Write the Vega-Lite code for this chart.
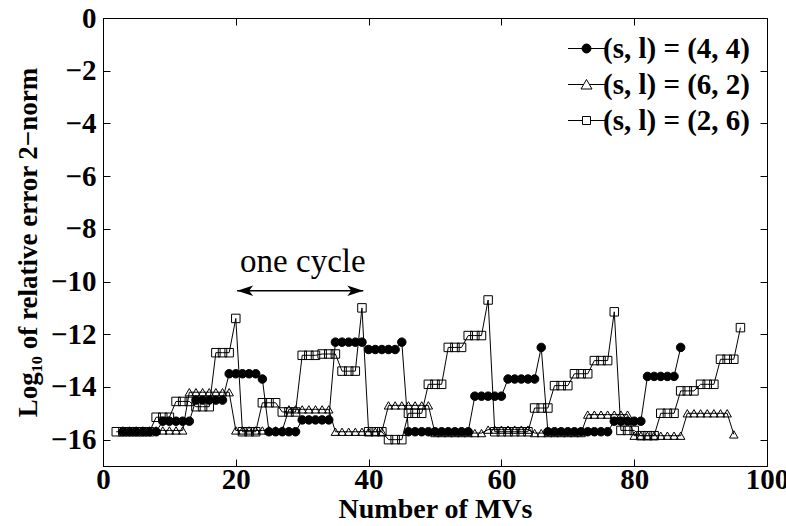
{
  "$schema": "https://vega.github.io/schema/vega-lite/v6.json",
  "width": 664,
  "height": 448,
  "autosize": {"type": "none"},
  "padding": {"left": 103, "top": 18, "right": 19, "bottom": 60},
  "background": "white",
  "config": {
    "view": {"stroke": "black", "strokeWidth": 1},
    "font": "Liberation Serif",
    "axis": {
      "labelFont": "Liberation Serif", "labelFontSize": 29, "labelFontWeight": "bold", "labelColor": "black",
      "titleFont": "Liberation Serif", "titleFontSize": 28, "titleFontWeight": "bold", "titleColor": "black",
      "domainColor": "black", "tickColor": "black", "grid": false, "labelFlush": false, "labelOverlap": false
    }
  },
  "datasets": {
    "series": [
      {"s":"(s, l) = (4, 4)","x":3,"y":-15.7},{"s":"(s, l) = (4, 4)","x":4,"y":-15.7},{"s":"(s, l) = (4, 4)","x":5,"y":-15.7},{"s":"(s, l) = (4, 4)","x":6,"y":-15.7},{"s":"(s, l) = (4, 4)","x":7,"y":-15.7},{"s":"(s, l) = (4, 4)","x":8,"y":-15.7},
      {"s":"(s, l) = (4, 4)","x":9,"y":-15.3},{"s":"(s, l) = (4, 4)","x":10,"y":-15.3},{"s":"(s, l) = (4, 4)","x":11,"y":-15.3},{"s":"(s, l) = (4, 4)","x":12,"y":-15.3},{"s":"(s, l) = (4, 4)","x":13,"y":-15.3},
      {"s":"(s, l) = (4, 4)","x":14,"y":-14.5},{"s":"(s, l) = (4, 4)","x":15,"y":-14.5},{"s":"(s, l) = (4, 4)","x":16,"y":-14.5},{"s":"(s, l) = (4, 4)","x":17,"y":-14.5},{"s":"(s, l) = (4, 4)","x":18,"y":-14.5},
      {"s":"(s, l) = (4, 4)","x":19,"y":-13.5},{"s":"(s, l) = (4, 4)","x":20,"y":-13.5},{"s":"(s, l) = (4, 4)","x":21,"y":-13.5},{"s":"(s, l) = (4, 4)","x":22,"y":-13.5},{"s":"(s, l) = (4, 4)","x":23,"y":-13.5},
      {"s":"(s, l) = (4, 4)","x":24,"y":-13.7},
      {"s":"(s, l) = (4, 4)","x":25,"y":-15.7},{"s":"(s, l) = (4, 4)","x":26,"y":-15.7},{"s":"(s, l) = (4, 4)","x":27,"y":-15.7},{"s":"(s, l) = (4, 4)","x":28,"y":-15.7},{"s":"(s, l) = (4, 4)","x":29,"y":-15.7},
      {"s":"(s, l) = (4, 4)","x":30,"y":-15.25},{"s":"(s, l) = (4, 4)","x":31,"y":-15.25},{"s":"(s, l) = (4, 4)","x":32,"y":-15.25},{"s":"(s, l) = (4, 4)","x":33,"y":-15.25},{"s":"(s, l) = (4, 4)","x":34,"y":-15.25},
      {"s":"(s, l) = (4, 4)","x":35,"y":-12.3},{"s":"(s, l) = (4, 4)","x":36,"y":-12.3},{"s":"(s, l) = (4, 4)","x":37,"y":-12.3},{"s":"(s, l) = (4, 4)","x":38,"y":-12.3},{"s":"(s, l) = (4, 4)","x":39,"y":-12.3},
      {"s":"(s, l) = (4, 4)","x":40,"y":-12.58},{"s":"(s, l) = (4, 4)","x":41,"y":-12.58},{"s":"(s, l) = (4, 4)","x":42,"y":-12.58},{"s":"(s, l) = (4, 4)","x":43,"y":-12.58},{"s":"(s, l) = (4, 4)","x":44,"y":-12.58},
      {"s":"(s, l) = (4, 4)","x":45,"y":-12.3},
      {"s":"(s, l) = (4, 4)","x":46,"y":-15.7},{"s":"(s, l) = (4, 4)","x":47,"y":-15.7},{"s":"(s, l) = (4, 4)","x":48,"y":-15.7},{"s":"(s, l) = (4, 4)","x":49,"y":-15.7},{"s":"(s, l) = (4, 4)","x":50,"y":-15.7},
      {"s":"(s, l) = (4, 4)","x":51,"y":-15.7},{"s":"(s, l) = (4, 4)","x":52,"y":-15.7},{"s":"(s, l) = (4, 4)","x":53,"y":-15.7},{"s":"(s, l) = (4, 4)","x":54,"y":-15.7},{"s":"(s, l) = (4, 4)","x":55,"y":-15.7},
      {"s":"(s, l) = (4, 4)","x":56,"y":-14.35},{"s":"(s, l) = (4, 4)","x":57,"y":-14.35},{"s":"(s, l) = (4, 4)","x":58,"y":-14.35},{"s":"(s, l) = (4, 4)","x":59,"y":-14.35},{"s":"(s, l) = (4, 4)","x":60,"y":-14.35},
      {"s":"(s, l) = (4, 4)","x":61,"y":-13.7},{"s":"(s, l) = (4, 4)","x":62,"y":-13.7},{"s":"(s, l) = (4, 4)","x":63,"y":-13.7},{"s":"(s, l) = (4, 4)","x":64,"y":-13.7},{"s":"(s, l) = (4, 4)","x":65,"y":-13.7},
      {"s":"(s, l) = (4, 4)","x":66,"y":-12.5},
      {"s":"(s, l) = (4, 4)","x":67,"y":-15.7},{"s":"(s, l) = (4, 4)","x":68,"y":-15.7},{"s":"(s, l) = (4, 4)","x":69,"y":-15.7},{"s":"(s, l) = (4, 4)","x":70,"y":-15.7},{"s":"(s, l) = (4, 4)","x":71,"y":-15.7},
      {"s":"(s, l) = (4, 4)","x":72,"y":-15.7},{"s":"(s, l) = (4, 4)","x":73,"y":-15.7},{"s":"(s, l) = (4, 4)","x":74,"y":-15.7},{"s":"(s, l) = (4, 4)","x":75,"y":-15.7},{"s":"(s, l) = (4, 4)","x":76,"y":-15.7},
      {"s":"(s, l) = (4, 4)","x":77,"y":-15.3},{"s":"(s, l) = (4, 4)","x":78,"y":-15.3},{"s":"(s, l) = (4, 4)","x":79,"y":-15.3},{"s":"(s, l) = (4, 4)","x":80,"y":-15.3},{"s":"(s, l) = (4, 4)","x":81,"y":-15.3},
      {"s":"(s, l) = (4, 4)","x":82,"y":-13.6},{"s":"(s, l) = (4, 4)","x":83,"y":-13.6},{"s":"(s, l) = (4, 4)","x":84,"y":-13.6},{"s":"(s, l) = (4, 4)","x":85,"y":-13.6},{"s":"(s, l) = (4, 4)","x":86,"y":-13.6},
      {"s":"(s, l) = (4, 4)","x":87,"y":-12.5},

      {"s":"(s, l) = (6, 2)","x":3,"y":-15.65},{"s":"(s, l) = (6, 2)","x":4,"y":-15.65},{"s":"(s, l) = (6, 2)","x":5,"y":-15.65},{"s":"(s, l) = (6, 2)","x":6,"y":-15.65},{"s":"(s, l) = (6, 2)","x":7,"y":-15.65},
      {"s":"(s, l) = (6, 2)","x":8,"y":-15.65},{"s":"(s, l) = (6, 2)","x":9,"y":-15.65},{"s":"(s, l) = (6, 2)","x":10,"y":-15.65},{"s":"(s, l) = (6, 2)","x":11,"y":-15.65},{"s":"(s, l) = (6, 2)","x":12,"y":-15.65},
      {"s":"(s, l) = (6, 2)","x":13,"y":-14.2},{"s":"(s, l) = (6, 2)","x":14,"y":-14.2},{"s":"(s, l) = (6, 2)","x":15,"y":-14.2},{"s":"(s, l) = (6, 2)","x":16,"y":-14.2},{"s":"(s, l) = (6, 2)","x":17,"y":-14.2},{"s":"(s, l) = (6, 2)","x":18,"y":-14.2},{"s":"(s, l) = (6, 2)","x":19,"y":-14.2},
      {"s":"(s, l) = (6, 2)","x":20,"y":-15.65},{"s":"(s, l) = (6, 2)","x":21,"y":-15.65},{"s":"(s, l) = (6, 2)","x":22,"y":-15.65},{"s":"(s, l) = (6, 2)","x":23,"y":-15.65},{"s":"(s, l) = (6, 2)","x":24,"y":-15.65},{"s":"(s, l) = (6, 2)","x":25,"y":-15.65},{"s":"(s, l) = (6, 2)","x":26,"y":-15.65},{"s":"(s, l) = (6, 2)","x":27,"y":-15.65},
      {"s":"(s, l) = (6, 2)","x":28,"y":-14.85},{"s":"(s, l) = (6, 2)","x":29,"y":-14.85},{"s":"(s, l) = (6, 2)","x":30,"y":-14.85},{"s":"(s, l) = (6, 2)","x":31,"y":-14.85},{"s":"(s, l) = (6, 2)","x":32,"y":-14.85},{"s":"(s, l) = (6, 2)","x":33,"y":-14.85},{"s":"(s, l) = (6, 2)","x":34,"y":-14.85},
      {"s":"(s, l) = (6, 2)","x":35,"y":-15.7},{"s":"(s, l) = (6, 2)","x":36,"y":-15.7},{"s":"(s, l) = (6, 2)","x":37,"y":-15.7},{"s":"(s, l) = (6, 2)","x":38,"y":-15.7},{"s":"(s, l) = (6, 2)","x":39,"y":-15.7},{"s":"(s, l) = (6, 2)","x":40,"y":-15.7},{"s":"(s, l) = (6, 2)","x":41,"y":-15.7},{"s":"(s, l) = (6, 2)","x":42,"y":-15.7},
      {"s":"(s, l) = (6, 2)","x":43,"y":-14.7},{"s":"(s, l) = (6, 2)","x":44,"y":-14.7},{"s":"(s, l) = (6, 2)","x":45,"y":-14.7},{"s":"(s, l) = (6, 2)","x":46,"y":-14.7},{"s":"(s, l) = (6, 2)","x":47,"y":-14.7},{"s":"(s, l) = (6, 2)","x":48,"y":-14.7},{"s":"(s, l) = (6, 2)","x":49,"y":-14.7},
      {"s":"(s, l) = (6, 2)","x":50,"y":-15.75},{"s":"(s, l) = (6, 2)","x":51,"y":-15.75},{"s":"(s, l) = (6, 2)","x":52,"y":-15.75},{"s":"(s, l) = (6, 2)","x":53,"y":-15.75},{"s":"(s, l) = (6, 2)","x":54,"y":-15.75},{"s":"(s, l) = (6, 2)","x":55,"y":-15.75},{"s":"(s, l) = (6, 2)","x":56,"y":-15.75},{"s":"(s, l) = (6, 2)","x":57,"y":-15.75},
      {"s":"(s, l) = (6, 2)","x":58,"y":-15.62},{"s":"(s, l) = (6, 2)","x":59,"y":-15.62},{"s":"(s, l) = (6, 2)","x":60,"y":-15.62},{"s":"(s, l) = (6, 2)","x":61,"y":-15.62},{"s":"(s, l) = (6, 2)","x":62,"y":-15.62},{"s":"(s, l) = (6, 2)","x":63,"y":-15.62},{"s":"(s, l) = (6, 2)","x":64,"y":-15.62},
      {"s":"(s, l) = (6, 2)","x":65,"y":-15.75},{"s":"(s, l) = (6, 2)","x":66,"y":-15.75},{"s":"(s, l) = (6, 2)","x":67,"y":-15.75},{"s":"(s, l) = (6, 2)","x":68,"y":-15.75},{"s":"(s, l) = (6, 2)","x":69,"y":-15.75},{"s":"(s, l) = (6, 2)","x":70,"y":-15.75},{"s":"(s, l) = (6, 2)","x":71,"y":-15.75},{"s":"(s, l) = (6, 2)","x":72,"y":-15.75},
      {"s":"(s, l) = (6, 2)","x":73,"y":-15.05},{"s":"(s, l) = (6, 2)","x":74,"y":-15.05},{"s":"(s, l) = (6, 2)","x":75,"y":-15.05},{"s":"(s, l) = (6, 2)","x":76,"y":-15.05},{"s":"(s, l) = (6, 2)","x":77,"y":-15.05},{"s":"(s, l) = (6, 2)","x":78,"y":-15.05},{"s":"(s, l) = (6, 2)","x":79,"y":-15.05},
      {"s":"(s, l) = (6, 2)","x":80,"y":-15.85},{"s":"(s, l) = (6, 2)","x":81,"y":-15.85},{"s":"(s, l) = (6, 2)","x":82,"y":-15.85},{"s":"(s, l) = (6, 2)","x":83,"y":-15.85},{"s":"(s, l) = (6, 2)","x":84,"y":-15.85},{"s":"(s, l) = (6, 2)","x":85,"y":-15.85},{"s":"(s, l) = (6, 2)","x":86,"y":-15.85},{"s":"(s, l) = (6, 2)","x":87,"y":-15.85},
      {"s":"(s, l) = (6, 2)","x":88,"y":-15.0},{"s":"(s, l) = (6, 2)","x":89,"y":-15.0},{"s":"(s, l) = (6, 2)","x":90,"y":-15.0},{"s":"(s, l) = (6, 2)","x":91,"y":-15.0},{"s":"(s, l) = (6, 2)","x":92,"y":-15.0},{"s":"(s, l) = (6, 2)","x":93,"y":-15.0},{"s":"(s, l) = (6, 2)","x":94,"y":-15.0},
      {"s":"(s, l) = (6, 2)","x":95,"y":-15.8},

      {"s":"(s, l) = (2, 6)","x":2,"y":-15.7},{"s":"(s, l) = (2, 6)","x":3,"y":-15.7},{"s":"(s, l) = (2, 6)","x":4,"y":-15.7},{"s":"(s, l) = (2, 6)","x":5,"y":-15.7},{"s":"(s, l) = (2, 6)","x":6,"y":-15.7},{"s":"(s, l) = (2, 6)","x":7,"y":-15.7},
      {"s":"(s, l) = (2, 6)","x":8,"y":-15.15},{"s":"(s, l) = (2, 6)","x":9,"y":-15.15},{"s":"(s, l) = (2, 6)","x":10,"y":-15.15},
      {"s":"(s, l) = (2, 6)","x":11,"y":-14.55},{"s":"(s, l) = (2, 6)","x":12,"y":-14.55},{"s":"(s, l) = (2, 6)","x":13,"y":-14.55},
      {"s":"(s, l) = (2, 6)","x":14,"y":-14.75},{"s":"(s, l) = (2, 6)","x":15,"y":-14.75},{"s":"(s, l) = (2, 6)","x":16,"y":-14.75},
      {"s":"(s, l) = (2, 6)","x":17,"y":-12.7},{"s":"(s, l) = (2, 6)","x":18,"y":-12.7},{"s":"(s, l) = (2, 6)","x":19,"y":-12.7},
      {"s":"(s, l) = (2, 6)","x":20,"y":-11.4},
      {"s":"(s, l) = (2, 6)","x":21,"y":-15.7},{"s":"(s, l) = (2, 6)","x":22,"y":-15.7},{"s":"(s, l) = (2, 6)","x":23,"y":-15.7},
      {"s":"(s, l) = (2, 6)","x":24,"y":-14.6},{"s":"(s, l) = (2, 6)","x":25,"y":-14.6},{"s":"(s, l) = (2, 6)","x":26,"y":-14.6},
      {"s":"(s, l) = (2, 6)","x":27,"y":-14.95},{"s":"(s, l) = (2, 6)","x":28,"y":-14.95},{"s":"(s, l) = (2, 6)","x":29,"y":-14.95},
      {"s":"(s, l) = (2, 6)","x":30,"y":-12.8},{"s":"(s, l) = (2, 6)","x":31,"y":-12.8},{"s":"(s, l) = (2, 6)","x":32,"y":-12.8},
      {"s":"(s, l) = (2, 6)","x":33,"y":-12.75},{"s":"(s, l) = (2, 6)","x":34,"y":-12.75},{"s":"(s, l) = (2, 6)","x":35,"y":-12.75},
      {"s":"(s, l) = (2, 6)","x":36,"y":-13.4},{"s":"(s, l) = (2, 6)","x":37,"y":-13.4},{"s":"(s, l) = (2, 6)","x":38,"y":-13.4},
      {"s":"(s, l) = (2, 6)","x":39,"y":-11.0},
      {"s":"(s, l) = (2, 6)","x":40,"y":-15.7},{"s":"(s, l) = (2, 6)","x":41,"y":-15.7},{"s":"(s, l) = (2, 6)","x":42,"y":-15.7},
      {"s":"(s, l) = (2, 6)","x":43,"y":-16.0},{"s":"(s, l) = (2, 6)","x":44,"y":-16.0},{"s":"(s, l) = (2, 6)","x":45,"y":-16.0},
      {"s":"(s, l) = (2, 6)","x":46,"y":-15.0},{"s":"(s, l) = (2, 6)","x":47,"y":-15.0},{"s":"(s, l) = (2, 6)","x":48,"y":-15.0},
      {"s":"(s, l) = (2, 6)","x":49,"y":-13.9},{"s":"(s, l) = (2, 6)","x":50,"y":-13.9},{"s":"(s, l) = (2, 6)","x":51,"y":-13.9},
      {"s":"(s, l) = (2, 6)","x":52,"y":-12.5},{"s":"(s, l) = (2, 6)","x":53,"y":-12.5},{"s":"(s, l) = (2, 6)","x":54,"y":-12.5},
      {"s":"(s, l) = (2, 6)","x":55,"y":-12.05},{"s":"(s, l) = (2, 6)","x":56,"y":-12.05},{"s":"(s, l) = (2, 6)","x":57,"y":-12.05},
      {"s":"(s, l) = (2, 6)","x":58,"y":-10.7},
      {"s":"(s, l) = (2, 6)","x":59,"y":-15.7},{"s":"(s, l) = (2, 6)","x":60,"y":-15.7},{"s":"(s, l) = (2, 6)","x":61,"y":-15.7},{"s":"(s, l) = (2, 6)","x":62,"y":-15.7},{"s":"(s, l) = (2, 6)","x":63,"y":-15.7},{"s":"(s, l) = (2, 6)","x":64,"y":-15.7},
      {"s":"(s, l) = (2, 6)","x":65,"y":-14.8},{"s":"(s, l) = (2, 6)","x":66,"y":-14.8},{"s":"(s, l) = (2, 6)","x":67,"y":-14.8},
      {"s":"(s, l) = (2, 6)","x":68,"y":-13.95},{"s":"(s, l) = (2, 6)","x":69,"y":-13.95},{"s":"(s, l) = (2, 6)","x":70,"y":-13.95},
      {"s":"(s, l) = (2, 6)","x":71,"y":-13.5},{"s":"(s, l) = (2, 6)","x":72,"y":-13.5},{"s":"(s, l) = (2, 6)","x":73,"y":-13.5},
      {"s":"(s, l) = (2, 6)","x":74,"y":-13.0},{"s":"(s, l) = (2, 6)","x":75,"y":-13.0},{"s":"(s, l) = (2, 6)","x":76,"y":-13.0},
      {"s":"(s, l) = (2, 6)","x":77,"y":-11.15},
      {"s":"(s, l) = (2, 6)","x":78,"y":-15.65},{"s":"(s, l) = (2, 6)","x":79,"y":-15.65},{"s":"(s, l) = (2, 6)","x":80,"y":-15.65},
      {"s":"(s, l) = (2, 6)","x":81,"y":-15.85},{"s":"(s, l) = (2, 6)","x":82,"y":-15.85},{"s":"(s, l) = (2, 6)","x":83,"y":-15.85},
      {"s":"(s, l) = (2, 6)","x":84,"y":-15.0},{"s":"(s, l) = (2, 6)","x":85,"y":-15.0},{"s":"(s, l) = (2, 6)","x":86,"y":-15.0},
      {"s":"(s, l) = (2, 6)","x":87,"y":-14.15},{"s":"(s, l) = (2, 6)","x":88,"y":-14.15},{"s":"(s, l) = (2, 6)","x":89,"y":-14.15},
      {"s":"(s, l) = (2, 6)","x":90,"y":-13.9},{"s":"(s, l) = (2, 6)","x":91,"y":-13.9},{"s":"(s, l) = (2, 6)","x":92,"y":-13.9},
      {"s":"(s, l) = (2, 6)","x":93,"y":-12.95},{"s":"(s, l) = (2, 6)","x":94,"y":-12.95},{"s":"(s, l) = (2, 6)","x":95,"y":-12.95},
      {"s":"(s, l) = (2, 6)","x":96,"y":-11.75}
    ],
    "arrow": [{"x": 20.2, "x2": 39.2, "y": -10.35}],
    "heads": [{"x": 20.2, "y": -10.35, "dir": "left"}, {"x": 39.2, "y": -10.35, "dir": "right"}],
    "note": [{"x": 30.1, "y": -9.25, "label": "one cycle"}]
  },
  "layer": [
    {
      "data": {"name": "series"},
      "mark": {"type": "line", "color": "black", "strokeWidth": 1},
      "encoding": {
        "x": {"field": "x", "type": "quantitative", "scale": {"domain": [0, 100], "nice": false},
          "axis": {"orient": "bottom", "values": [0, 20, 40, 60, 80, 100], "title": "Number of MVs", "tickSize": -7, "labelPadding": 6, "titlePadding": 1}},
        "y": {"field": "y", "type": "quantitative", "scale": {"domain": [-17, 0], "nice": false, "zero": false},
          "axis": {"orient": "left", "values": [0, -2, -4, -6, -8, -10, -12, -14, -16], "title": "Log₁₀ of relative error 2−norm", "titleFontSize": 27, "tickSize": -7, "labelPadding": 14, "titlePadding": 8}},
        "detail": {"field": "s", "type": "nominal"}
      }
    },
    {
      "data": {"name": "series"},
      "mark": {"type": "point", "stroke": "black", "strokeWidth": 1, "size": 72, "opacity": 1},
      "encoding": {
        "x": {"field": "x", "type": "quantitative",
          "axis": {"orient": "top", "values": [0, 20, 40, 60, 80, 100], "labels": false, "title": null, "domain": false, "tickSize": -7}},
        "y": {"field": "y", "type": "quantitative",
          "axis": {"orient": "right", "values": [0, -2, -4, -6, -8, -10, -12, -14, -16], "labels": false, "title": null, "domain": false, "tickSize": -7}},
        "shape": {"field": "s", "type": "nominal",
          "scale": {"domain": ["(s, l) = (4, 4)", "(s, l) = (6, 2)", "(s, l) = (2, 6)"], "range": ["circle", "triangle-up", "square"]},
          "legend": null},
        "fill": {"field": "s", "type": "nominal",
          "scale": {"domain": ["(s, l) = (4, 4)", "(s, l) = (6, 2)", "(s, l) = (2, 6)"], "range": ["black", "transparent", "transparent"]},
          "legend": null}
      }
    },
    {
      "data": {"name": "series"},
      "transform": [{"filter": "datum.x < 0"}],
      "mark": {"type": "point", "stroke": "black", "strokeWidth": 1, "opacity": 1},
      "encoding": {
        "x": {"field": "x", "type": "quantitative", "axis": null},
        "y": {"field": "y", "type": "quantitative", "axis": null},
        "shape": {"field": "s", "type": "nominal",
          "scale": {"domain": ["(s, l) = (4, 4)", "(s, l) = (6, 2)", "(s, l) = (2, 6)"],
            "range": ["M-1.85,0H1.85M0.45,0A0.45,0.45 0 1,1 -0.45,0A0.45,0.45 0 1,1 0.45,0Z", "M-1.85,0H-0.29M0.29,0H1.85M0,-0.5L0.55,0.45L-0.55,0.45Z", "M-1.85,0H-0.4M0.4,0H1.85M-0.4,-0.4H0.4V0.4H-0.4Z"]},
          "legend": {
            "title": null, "orient": "none", "legendX": 469, "legendY": 16, "padding": 0,
            "labelFont": "Liberation Serif", "labelFontSize": 29, "labelFontWeight": "bold", "labelColor": "black",
            "symbolSize": 400, "symbolStrokeWidth": 1, "labelOffset": 2, "rowPadding": 6
          }},
        "fill": {"field": "s", "type": "nominal",
          "scale": {"domain": ["(s, l) = (4, 4)", "(s, l) = (6, 2)", "(s, l) = (2, 6)"], "range": ["black", "transparent", "transparent"]},
          "legend": {
            "title": null, "orient": "none", "legendX": 469, "legendY": 16, "padding": 0,
            "labelFont": "Liberation Serif", "labelFontSize": 29, "labelFontWeight": "bold", "labelColor": "black",
            "symbolSize": 400, "symbolStrokeWidth": 1, "labelOffset": 2, "rowPadding": 6
          }}
      }
    },
    {
      "data": {"name": "arrow"},
      "mark": {"type": "rule", "color": "black", "strokeWidth": 1.5},
      "encoding": {
        "x": {"field": "x", "type": "quantitative", "axis": null},
        "x2": {"field": "x2"},
        "y": {"field": "y", "type": "quantitative", "axis": null}
      }
    },
    {
      "data": {"name": "heads"},
      "mark": {"type": "point", "filled": true, "color": "black", "size": 256, "opacity": 1},
      "encoding": {
        "x": {"field": "x", "type": "quantitative", "axis": null},
        "y": {"field": "y", "type": "quantitative", "axis": null},
        "shape": {"field": "dir", "type": "nominal",
          "scale": {"domain": ["left", "right"], "range": ["M0,0L2,-0.65L1.5,0L2,0.65Z", "M0,0L-2,-0.65L-1.5,0L-2,0.65Z"]},
          "legend": null}
      }
    },
    {
      "data": {"name": "note"},
      "mark": {"type": "text", "font": "Liberation Serif", "fontSize": 33, "fontWeight": "normal", "color": "black", "baseline": "middle", "align": "center"},
      "encoding": {
        "x": {"field": "x", "type": "quantitative", "axis": null},
        "y": {"field": "y", "type": "quantitative", "axis": null},
        "text": {"field": "label"}
      }
    }
  ],
  "resolve": {"axis": {"x": "independent", "y": "independent"}, "scale": {"shape": "independent", "fill": "independent"}, "legend": {"shape": "independent", "fill": "independent"}}
}
